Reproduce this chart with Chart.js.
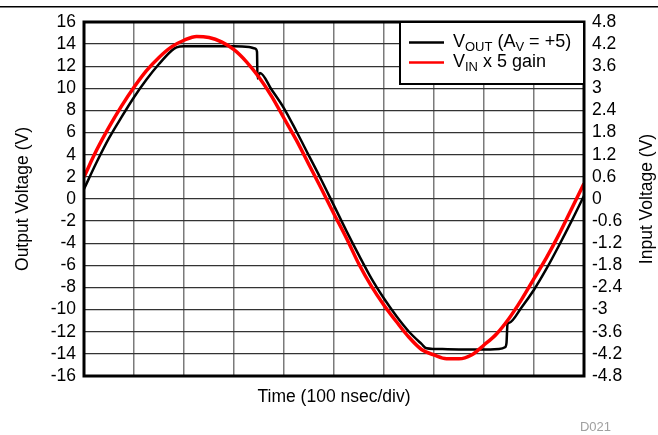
<!DOCTYPE html>
<html>
<head>
<meta charset="utf-8">
<script src="https://cdn.jsdelivr.net/npm/chart.js@4.4.1/dist/chart.umd.min.js"></script>
<style>
    html, body { margin: 0; padding: 0; background: #fff; }
</style>
</head>
<body>
<canvas id="graficoSaida" width="658" height="435"></canvas>
<script>
// tempo em divisoes (100 ns/div)
const tempoVin = [0, 0.25, 0.5, 0.75, 1, 1.25, 1.5, 1.75, 2, 2.25, 2.5, 2.75, 3, 3.25, 3.5, 3.75, 4, 4.25, 4.5, 4.75, 5, 5.25, 5.5, 5.75, 6, 6.25, 6.5, 6.75, 7, 7.25, 7.5, 7.75, 8, 8.25, 8.5, 8.75, 9, 9.25, 9.5, 9.75, 10]
const vinX5 = [2.0, 4.4, 6.5, 8.4, 10.1, 11.6, 12.8, 13.75, 14.35, 14.7, 14.6, 14.2, 13.5, 12.4, 11.0, 9.3, 7.3, 5.3, 3.1, 0.9, -1.35, -3.55, -5.9, -7.9, -9.6, -11.1, -12.5, -13.6, -14.1, -14.45, -14.45, -14.1, -13.2, -12.2, -10.8, -9.1, -7.2, -5.3, -3.2, -0.9, 1.4]

const tempoVout = [0, 0.25, 0.5, 0.75, 1, 1.25, 1.5, 1.75, 1.85, 2, 2.5, 3, 3.3, 3.42, 3.46, 3.47, 3.52, 3.75, 4, 4.25, 4.5, 4.75, 5, 5.25, 5.5, 5.75, 6, 6.25, 6.5, 6.75, 6.85, 7, 7.5, 8, 8.3, 8.42, 8.45, 8.47, 8.5, 8.75, 9, 9.25, 9.5, 9.75, 10]
const vout = [0.9, 3.3, 5.5, 7.4, 9.2, 10.8, 12.2, 13.4, 13.7, 13.8, 13.8, 13.8, 13.75, 13.6, 13.3, 10.9, 11.4, 9.9, 8.2, 6.1, 3.9, 1.7, -0.6, -2.9, -5.1, -7.2, -9.0, -10.6, -12.0, -13.1, -13.5, -13.55, -13.6, -13.6, -13.55, -13.4, -13.0, -11.3, -11.2, -9.8, -8.2, -6.3, -4.2, -2.0, 0.3]

const ticksSaida = [-16, -14, -12, -10, -8, -6, -4, -2, 0, 2, 4, 6, 8, 10, 12, 14, 16]
const ticksEntrada = [-4.8, -4.2, -3.6, -3, -2.4, -1.8, -1.2, -0.6, 0, 0.6, 1.2, 1.8, 2.4, 3, 3.6, 4.2, 4.8]
const divisoes = [0, 1, 2, 3, 4, 5, 6, 7, 8, 9, 10]

const fonte = "'Liberation Sans', Arial, sans-serif"

function pontos(xs, ys) {
    return xs.map((x, i) => ({ x: x, y: ys[i] }))
}

// escreve texto com subscritos (V_OUT etc)
function textoSub(ctx, partes, x, y) {
    partes.forEach(p => {
        ctx.font = (p.sub ? '13px ' : '18px ') + fonte
        ctx.fillText(p.t, x, p.sub ? y + 4 : y)
        x += ctx.measureText(p.t).width
    })
}

const moldura = {
    id: 'moldura',
    afterDatasetsDraw(chart) {
        const { ctx, chartArea: a } = chart
        ctx.save()
        ctx.strokeStyle = '#000'
        ctx.lineWidth = 3
        ctx.strokeRect(a.left, a.top, a.right - a.left, a.bottom - a.top)
        ctx.restore()
    },
    afterDraw(chart) {
        const { ctx, chartArea: a } = chart
        ctx.save()
        // linha do topo
        ctx.fillStyle = '#000'
        ctx.fillRect(0, 6, 658, 1.5)

        // legenda
        const lx = 400, ly = a.top
        ctx.fillStyle = '#fff'
        ctx.fillRect(lx, ly, a.right - lx, 62)
        ctx.strokeStyle = '#000'
        ctx.lineWidth = 2
        ctx.strokeRect(lx, ly, a.right - lx, 62)

        ctx.lineWidth = 2.5
        ctx.beginPath(); ctx.moveTo(409, 42.5); ctx.lineTo(444, 42.5); ctx.stroke()
        ctx.strokeStyle = '#ff0000'
        ctx.beginPath(); ctx.moveTo(409, 62.5); ctx.lineTo(444, 62.5); ctx.stroke()

        ctx.fillStyle = '#000'
        ctx.textAlign = 'left'
        ctx.textBaseline = 'alphabetic'
        textoSub(ctx, [{ t: 'V' }, { t: 'OUT', sub: true }, { t: ' (A' }, { t: 'V', sub: true }, { t: ' = +5)' }], 453, 47)
        textoSub(ctx, [{ t: 'V' }, { t: 'IN', sub: true }, { t: ' x 5 gain' }], 453, 67)

        // titulo do eixo direito
        ctx.font = '17.5px ' + fonte
        ctx.textAlign = 'center'
        ctx.textBaseline = 'middle'
        ctx.translate(647, (a.top + a.bottom) / 2)
        ctx.rotate(-Math.PI / 2)
        ctx.fillText('Input Voltage (V)', 0, 0)
        ctx.restore()

        ctx.save()
        ctx.font = '13px ' + fonte
        ctx.fillStyle = '#a0a0a0'
        ctx.textAlign = 'right'
        ctx.fillText('D021', 611, 431)
        ctx.restore()
    }
}

const ctxSaida = document.getElementById('graficoSaida')

const grafico = new Chart(ctxSaida, {
    type: 'line',
    data: {
        datasets: [
            {
                label: 'VOUT (AV = +5)',
                data: pontos(tempoVout, vout),
                borderColor: '#000',
                borderWidth: 2.5,
                pointRadius: 0,
                cubicInterpolationMode: 'monotone',
                yAxisID: 'y',
                order: 1
            },
            {
                label: 'VIN x 5 gain',
                data: pontos(tempoVin, vinX5),
                borderColor: '#ff0000',
                borderWidth: 3.5,
                pointRadius: 0,
                cubicInterpolationMode: 'monotone',
                yAxisID: 'y',
                order: 0
            }
        ]
    },
    options: {
        responsive: false,
        animation: false,
        layout: { padding: { top: 22, left: 0, right: 0, bottom: 0 } },
        plugins: {
            legend: { display: false },
            tooltip: { enabled: false }
        },
        scales: {
            x: {
                type: 'linear',
                min: 0,
                max: 10,
                afterBuildTicks: s => { s.ticks = divisoes.map(v => ({ value: v })) },
                afterFit: s => { s.height = 59 },
                ticks: { display: false, autoSkip: false },
                grid: { color: '#7a7a7a', lineWidth: 1.5, drawTicks: false },
                border: { display: false },
                title: {
                    display: true,
                    text: 'Time (100 nsec/div)',
                    color: '#000',
                    font: { family: fonte, size: 17.5 },
                    padding: { top: 0, bottom: 27 }
                }
            },
            y: {
                position: 'left',
                min: -16,
                max: 16,
                afterBuildTicks: s => { s.ticks = ticksSaida.map(v => ({ value: v })) },
                afterFit: s => { s.width = 84 },
                ticks: { color: '#000', padding: 8, autoSkip: false, font: { family: fonte, size: 17.5 } },
                grid: { color: '#333', lineWidth: 1.3, drawTicks: false },
                border: { display: false },
                title: {
                    display: true,
                    text: 'Output Voltage (V)',
                    color: '#000',
                    font: { family: fonte, size: 17.5 },
                    padding: { top: 13, bottom: 0 }
                }
            },
            y1: {
                position: 'right',
                min: -4.8,
                max: 4.8,
                afterBuildTicks: s => { s.ticks = ticksEntrada.map(v => ({ value: v })) },
                afterFit: s => { s.width = 74 },
                ticks: {
                    color: '#000',
                    padding: 8,
                    autoSkip: false,
                    font: { family: fonte, size: 17.5 },
                    callback: v => String(v)
                },
                grid: { drawOnChartArea: false, drawTicks: false },
                border: { display: false }
            }
        }
    },
    plugins: [moldura]
});
</script>
</body>
</html>
